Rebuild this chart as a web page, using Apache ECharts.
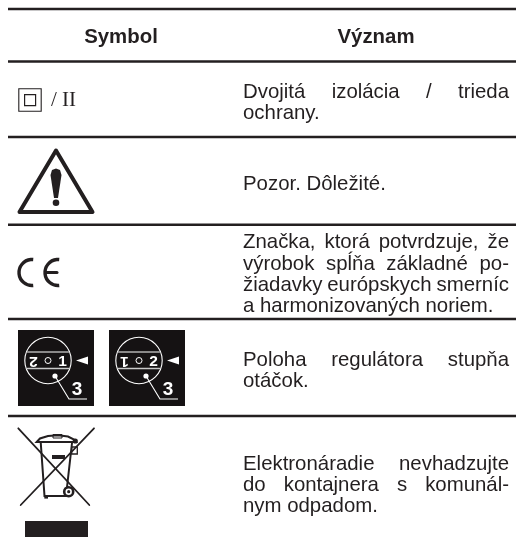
<!DOCTYPE html>
<html><head><meta charset="utf-8">
<style>html,body{margin:0;padding:0;background:#fff}#c{width:516px;height:545px}</style>
<script src="https://cdn.jsdelivr.net/npm/echarts@6/dist/echarts.min.js"></script>
</head><body><div id="c"></div>
<script>
const headers = ["Symbol", "Význam"];
const row1Lines = ["Dvojitá izolácia / trieda", "ochrany."];
const row2Lines = ["Pozor. Dôležité."];
const row3Lines = ["Značka, ktorá potvrdzuje, že", "výrobok spĺňa základné po-", "žiadavky európskych smerníc", "a harmonizovaných noriem."];
const row4Lines = ["Poloha regulátora stupňa", "otáčok."];
const row5Lines = ["Elektronáradie nevhadzujte", "do kontajnera s komunál-", "nym odpadom."];
const classLabel = "/ II";
const knobLabels = [["2","1"],["1","2"]];
const knobNumber = "3";

const INK = '#231f20';
const FS = 20.4, FONT = '"Liberation Sans", Arial, sans-serif';
const L = 243, R = 509;
const g = [];
const mc = document.createElement('canvas').getContext('2d');
mc.font = FS + 'px "Liberation Sans"';

function text(s, x, base, o) {
  o = o || {};
  const fs = o.fs || FS;
  g.push({type:'text', x:x, y:base, rotation:o.rot||0, silent:true,
    style:{text:s, x:0, y:0, fill:o.fill||INK, font:(o.weight||'normal')+' '+fs+'px '+(o.family||FONT),
      textAlign:o.align||'left', verticalAlign:'bottom'}});
}
function T(s,x,base,o){ const fs=(o&&o.fs)||FS; text(s,x,base+Math.round(fs*0.21*10)/10,o); }

function justified(lines, baseTop, justifyUntil) {
  lines.forEach((ln,i)=>{
    const base = baseTop + i*21.1;
    const words = ln.split(' ');
    const last = i >= justifyUntil;
    if (last || words.length===1) { T(ln, L, base); return; }
    const w = words.map(t=>mc.measureText(t).width);
    const gap = (R-L-w.reduce((a,b)=>a+b,0))/(words.length-1);
    let x = L;
    words.forEach((t,k)=>{ T(t,x,base); x += w[k]+gap; });
  });
}
function line(x1,y1,x2,y2,lw,c){ g.push({type:'line',silent:true,shape:{x1,y1,x2,y2},style:{stroke:c||INK,lineWidth:lw||1,lineCap:'round'}}); }
function rect(x,y,w,h,o){ g.push({type:'rect',silent:true,shape:{x,y,width:w,height:h},style:o}); }
function circ(cx,cy,r,o){ g.push({type:'circle',silent:true,shape:{cx,cy,r},style:o}); }
function poly(points,o,closed,smooth){ g.push({type:closed?'polygon':'polyline',silent:true,shape:{points,smooth:smooth||0},style:o}); }

// rules
[9,61.5,137,224.7,319,416].forEach(y=>rect(8,y-1.2,508,2.4,{fill:INK}));

// headers
T(headers[0],121,43,{weight:'bold',align:'center'});
T(headers[1],376,43,{weight:'bold',align:'center'});

// text rows
justified(row1Lines,98,1);
justified(row2Lines,190,0);
justified(row3Lines,248.5,3);
justified(row4Lines,366,1);
justified(row5Lines,470,2);

// double-insulation
rect(18.8,88.8,22.4,22.4,{fill:'none',stroke:INK,lineWidth:1.1});
rect(24.6,94.6,11,11,{fill:'none',stroke:INK,lineWidth:1.2});
T(classLabel,51,107,{family:'"Liberation Serif",serif',fs:21});

// warning triangle
poly([[56,150.5],[92.5,212],[19.5,212]],{fill:'none',stroke:INK,lineWidth:4,lineJoin:'round'},true);
poly([[50.5,175],[52,170],[56,168.5],[60,170],[61.5,175],[58,198],[54,198]],{fill:INK},true);
circ(56,202.8,3.3,{fill:INK});

// CE
g.push({type:'arc',silent:true,shape:{cx:32,cy:272.5,r:13,startAngle:Math.PI*0.47,endAngle:Math.PI*1.53,clockwise:true},style:{stroke:INK,lineWidth:3.4,fill:'none'}});
g.push({type:'arc',silent:true,shape:{cx:58,cy:272.5,r:13,startAngle:Math.PI*0.47,endAngle:Math.PI*1.53,clockwise:true},style:{stroke:INK,lineWidth:3.4,fill:'none'}});
line(46,272.5,57,272.5,3);

// knob pictograms
function knob(ox, labels){
  const W='#fff';
  rect(ox,330,76,76,{fill:'#151213'});
  const cx=ox+30, cy=360.5;
  circ(cx,cy,23.2,{fill:'none',stroke:W,lineWidth:1.1});
  line(cx-20.5,352,cx+20.5,352,1,W);
  line(cx-20.5,368.5,cx+20.5,368.5,1.6,'#c9c9c9');
  text(labels[0],cx-14.5,353,{fill:W,weight:'bold',fs:15.5,align:'center',rot:Math.PI});
  circ(cx,cy,3,{fill:'none',stroke:W,lineWidth:1});
  T(labels[1],cx+14.5,366,{fill:W,weight:'bold',fs:15.5,align:'center'});
  poly([[cx+28,cy],[cx+40,cy-4],[cx+40,cy+4]],{fill:W},true);
  circ(cx+7,376,2.6,{fill:W});
  poly([[cx+7,376],[cx+21,399],[cx+39,399]],{fill:'none',stroke:W,lineWidth:1.1});
  T(knobNumber,cx+29,395.5,{fill:W,weight:'bold',fs:19,align:'center'});
}
knob(18,knobLabels[0]);
knob(109,knobLabels[1]);

// crossed-out bin
line(18.3,428.3,89.3,505,1.8);
line(94,428.3,20.7,505,1.8);
const B={fill:'none',stroke:INK,lineWidth:2};
poly([[40.7,442],[44.5,496],[66,496],[72,443]],B);
poly([[36.7,442],[40,438.5],[48,436],[58,435.2],[68,436.5],[74,439.5],[76,442]],B,true);
rect(53,434.5,9,3.5,{fill:'none',stroke:INK,lineWidth:1});
rect(52,455,13,4,{fill:INK});
rect(44.3,495,3.7,3.6,{fill:INK});
circ(75.3,441,2.6,{fill:INK});
rect(71.7,447,5.6,7,{fill:'none',stroke:INK,lineWidth:1.3});
circ(68.7,491.7,4.5,{fill:'#fff',stroke:INK,lineWidth:2.6});
circ(68.7,491.7,1.6,{fill:INK});
rect(25,521,63,16,{fill:INK});

const chart = echarts.init(document.getElementById('c'),null,{renderer:'canvas'});
chart.setOption({animation:false,backgroundColor:'#fff',graphic:{elements:g}});
</script></body></html>
